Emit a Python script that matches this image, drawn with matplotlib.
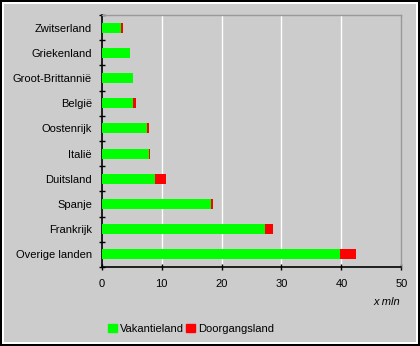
import matplotlib
matplotlib.use("Agg")
import matplotlib.pyplot as plt
from matplotlib.patches import Rectangle

plt.rcParams['font.family'] = ['Liberation Sans', 'DejaVu Sans']
plt.rcParams['font.size'] = 8

# landen van onder naar boven
landen = ['Overige landen', 'Frankrijk', 'Spanje', 'Duitsland', 'Italië',
          'Oostenrijk', 'België', 'Groot-Brittannië', 'Griekenland', 'Zwitserland']
vakantieland = [39.7, 27.2, 18.2, 8.9, 7.9, 7.55, 5.2, 5.2, 4.7, 3.2]
doorgangsland = [2.7, 1.35, 0.35, 1.8, 0.15, 0.35, 0.5, 0.0, 0.0, 0.35]
xticks = [0, 10, 20, 30, 40, 50]

grijs = '#cccccc'
W, H = 420, 346
fig = plt.figure(figsize=(W / 100, H / 100), dpi=100)
fig.patch.set_facecolor('black')

# kaders: zwart, wit, grijs
fig.add_artist(Rectangle((2 / W, 2 / H), 1 - 4 / W, 1 - 4 / H, transform=fig.transFigure,
                         facecolor='white', edgecolor='none', zorder=-2))
fig.add_artist(Rectangle((4 / W, 4 / H), 1 - 8 / W, 1 - 8 / H, transform=fig.transFigure,
                         facecolor=grijs, edgecolor='none', zorder=-1))

x0, x1 = 101.7, 401.3
y_top, y_bot = 15, 267
ax = fig.add_axes([x0 / W, (H - y_bot) / H, (x1 - x0) / W, (y_bot - y_top) / H])
ax.set_facecolor(grijs)

pos = list(range(len(landen)))
ax.barh(pos, vakantieland, height=0.4, color='#00ff00', zorder=3)
ax.barh(pos, doorgangsland, left=vakantieland, height=0.4, color='#ff0000', zorder=3)

ax.set_xlim(0, 50)
ax.set_ylim(-0.5, len(landen) - 0.5)
ax.set_xticks(xticks)
ax.set_yticks(pos)
ax.set_yticklabels(landen)
ax.set_yticks([p - 0.5 for p in pos] + [len(landen) - 0.5], minor=True)
ax.tick_params(axis='y', which='major', length=0, pad=7)
ax.tick_params(axis='y', which='minor', direction='inout', length=5, width=1, color='black')
ax.tick_params(axis='x', direction='inout', length=5, width=1, pad=6)

for v in xticks[1:-1]:
    ax.axvline(v, color='white', lw=1, zorder=1)

for s in ['left', 'bottom']:
    ax.spines[s].set_color('black')
    ax.spines[s].set_linewidth(1.2)
for s in ['top', 'right']:
    ax.spines[s].set_color('#999999')
    ax.spines[s].set_linewidth(1)

fig.text(400 / W, 1 - 302 / H, 'x mln', ha='right', va='center', style='italic')

handles = [Rectangle((0, 0), 1, 1, color='#00ff00'), Rectangle((0, 0), 1, 1, color='#ff0000')]
fig.legend(handles, ['Vakantieland', 'Doorgangsland'], loc='center', ncol=2,
           bbox_to_anchor=(191 / W, 1 - 329 / H), frameon=False,
           handlelength=0.8, handleheight=0.8, handletextpad=0.3, columnspacing=0.2)

fig.savefig('out.png', dpi=100, facecolor=fig.get_facecolor())
